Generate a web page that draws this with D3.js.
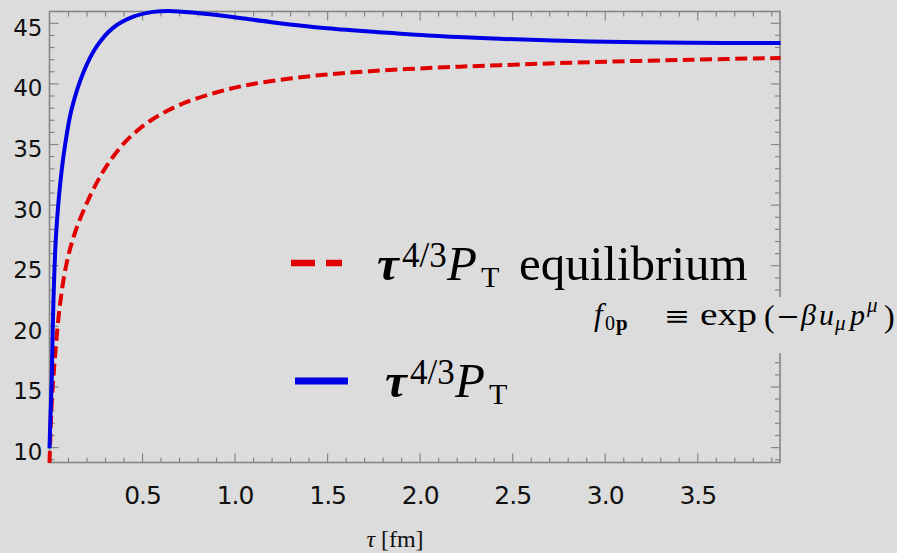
<!DOCTYPE html>
<html>
<head>
<meta charset="utf-8">
<script src="https://cdn.jsdelivr.net/npm/d3@7"></script>
<style>
	body { margin: 0; background: #dcdcdc; }
	svg { display: block; }
</style>
</head>
<body>
<div id="chart"></div>
<script>
// values
var tauBlue = [0.0, 0.006, 0.012, 0.017, 0.024, 0.035, 0.057, 0.084, 0.12, 0.183, 0.255, 0.345, 0.453, 0.56, 0.65, 0.8, 1.0, 1.2, 1.5, 1.8, 2.1, 2.43, 2.92, 3.46, 3.95]
var valBlue = [9.9, 12.9, 15.5, 19.4, 23.4, 27.4, 31.6, 34.9, 37.9, 40.9, 43.05, 44.6, 45.5, 45.9, 45.98, 45.8, 45.45, 45.05, 44.55, 44.2, 43.9, 43.68, 43.45, 43.35, 43.33]

var tauRed = [0.0, 0.012, 0.03, 0.057, 0.093, 0.138, 0.219, 0.309, 0.417, 0.543, 0.7, 0.9, 1.1, 1.41, 1.73, 2.09, 2.43, 2.92, 3.46, 3.95]
var valRed = [8.7, 13.6, 17.5, 21.8, 25.2, 27.7, 30.7, 33.2, 35.3, 36.9, 38.2, 39.25, 39.95, 40.6, 41.0, 41.3, 41.5, 41.75, 41.95, 42.1]

var xMajor = [0.5, 1.0, 1.5, 2.0, 2.5, 3.0, 3.5]
var yMajor = [10, 15, 20, 25, 30, 35, 40, 45]

var width = 897
var height = 553
var bg = '#dcdcdc'
var frameColor = '#858585'
var red = '#e00000'
var blue = '#0000e6'

var svg = d3.select("#chart")
	.append("svg")
	.attr("width", width)
	.attr("height", height)

svg.append("rect")
	.attr("width", width)
	.attr("height", height)
	.attr("fill", bg)

var plotLeft = 49.5, plotRight = 780, plotTop = 11.5, plotBottom = 462.5

var x = d3.scaleLinear().domain([0, 3.947]).range([plotLeft, plotRight])
var y = d3.scaleLinear().domain([8.73, 45.93]).range([plotBottom, plotTop])

var xMinor = d3.range(1, 40).map(function (i) { return i / 10 }).filter(function (v) { return Math.abs(v * 2 - Math.round(v * 2)) > 1e-6 })
var yMinor = d3.range(9, 46).filter(function (v) { return v % 5 != 0 })

function styleTicks(g) {
	g.select(".domain").remove()
	g.selectAll(".tick line").attr("stroke", frameColor).attr("stroke-width", 1.2)
}

// minor ticks on all four sides, pointing inward
var minorAxes = [
	{ a: d3.axisBottom(x), t: "translate(0," + plotBottom + ")", v: xMinor },
	{ a: d3.axisTop(x), t: "translate(0," + plotTop + ")", v: xMinor },
	{ a: d3.axisLeft(y), t: "translate(" + plotLeft + ",0)", v: yMinor },
	{ a: d3.axisRight(y), t: "translate(" + plotRight + ",0)", v: yMinor }
]
minorAxes.forEach(function (ax) {
	var g = svg.append("g").attr("transform", ax.t)
		.call(ax.a.tickValues(ax.v).tickSize(-5).tickFormat(""))
	styleTicks(g)
})

var gxb = svg.append("g").attr("transform", "translate(0," + plotBottom + ")")
	.call(d3.axisBottom(x).tickValues(xMajor).tickSize(-9).tickPadding(0).tickFormat(d3.format(".1f")))
styleTicks(gxb)
gxb.selectAll(".tick text")
	.attr("y", 41.5).attr("dy", null)
	.attr("fill", "#111")
	.style("font-family", "DejaVu Sans")
	.style("font-size", "25px")
	.style("letter-spacing", "-1px")

var gxt = svg.append("g").attr("transform", "translate(0," + plotTop + ")")
	.call(d3.axisTop(x).tickValues(xMajor).tickSize(-9).tickFormat(""))
styleTicks(gxt)

var gyl = svg.append("g").attr("transform", "translate(" + plotLeft + ",0)")
	.call(d3.axisLeft(y).tickValues(yMajor).tickSize(-9).tickPadding(7).tickFormat(d3.format("d")))
styleTicks(gyl)
gyl.selectAll(".tick text")
	.attr("x", -7).attr("dy", "12.5")
	.attr("fill", "#111")
	.style("font-family", "DejaVu Sans")
	.style("font-size", "23px")

var gyr = svg.append("g").attr("transform", "translate(" + plotRight + ",0)")
	.call(d3.axisRight(y).tickValues(yMajor).tickSize(-9).tickFormat(""))
styleTicks(gyr)

// frame
svg.append("rect")
	.attr("x", plotLeft).attr("y", plotTop)
	.attr("width", plotRight - plotLeft).attr("height", plotBottom - plotTop)
	.attr("fill", "none")
	.attr("stroke", frameColor)
	.attr("stroke-width", 1.6)

// curves
svg.append("clipPath").attr("id", "clip")
	.append("rect")
	.attr("x", plotLeft - 3).attr("y", plotTop - 3)
	.attr("width", plotRight - plotLeft + 6).attr("height", plotBottom - plotTop + 6)

var line = d3.line()
	.x(function (d) { return x(d[0]) })
	.y(function (d) { return y(d[1]) })
	.curve(d3.curveCatmullRom.alpha(0.5))

svg.append("path")
	.datum(d3.zip(tauRed, valRed))
	.attr("clip-path", "url(#clip)")
	.attr("d", line)
	.attr("fill", "none")
	.attr("stroke", red)
	.attr("stroke-width", 4)
	.attr("stroke-dasharray", "12,5.5")

svg.append("path")
	.datum(d3.zip(tauBlue, valBlue))
	.attr("clip-path", "url(#clip)")
	.attr("d", line)
	.attr("fill", "none")
	.attr("stroke", blue)
	.attr("stroke-width", 4)

// axis label
svg.append("text")
	.attr("x", 395).attr("y", 547)
	.attr("text-anchor", "middle")
	.style("font-family", "Liberation Serif")
	.style("font-size", "24px")
	.attr("fill", "#111")
	.html('<tspan font-style="italic">τ</tspan> [fm]')

// legend
svg.append("line")
	.attr("x1", 291).attr("x2", 342).attr("y1", 263).attr("y2", 263)
	.attr("stroke", red).attr("stroke-width", 6.5)
	.attr("stroke-dasharray", "24,11")
svg.append("line")
	.attr("x1", 295).attr("x2", 348).attr("y1", 381).attr("y2", 381)
	.attr("stroke", blue).attr("stroke-width", 7)

function piece(tx, ty, txt, size, italic, bold, len, family) {
	var t = svg.append("text")
		.attr("x", tx).attr("y", ty)
		.attr("fill", "#000")
		.style("font-family", family || "Liberation Serif")
		.style("font-size", size + "px")
		.style("font-style", italic ? "italic" : "normal")
		.style("font-weight", bold ? "bold" : "normal")
		.text(txt)
	if (len) t.attr("textLength", len).attr("lengthAdjust", "spacingAndGlyphs")
	return t
}
function legendLabel(x0, base) {
	piece(x0, base, "τ", 49, true, true)
	piece(x0 + 25, base - 13, "4/3", 35, false, false)
	piece(x0 + 70, base, "P", 49, true, false)
	piece(x0 + 104, base + 7, "T", 30, false, false)
}
legendLabel(377, 280)
piece(519, 280, "equilibrium", 49, false, false)
legendLabel(385, 397)

// formula, sitting on its own patch of background over the right frame
svg.append("rect")
	.attr("x", 585).attr("y", 297).attr("width", 312).attr("height", 56)
	.attr("fill", bg)
var fb = 325
piece(594, fb, "f", 31, true, false)
piece(605, fb + 5, "0", 20, false, false)
piece(616, fb + 5, "p", 21, false, true)
piece(664, fb, "≡", 26, false, false, 26, "DejaVu Serif")
piece(700, fb, "exp", 31, false, false, 57)
piece(764, fb + 2, "(", 32, false, false)
piece(776, fb, "−", 26, false, false, 24, "DejaVu Serif")
piece(801, fb, "β", 30, true, false)
piece(819, fb, "u", 30, true, false)
piece(835, fb + 5, "μ", 21, true, false)
piece(850, fb, "p", 30, true, false)
piece(867, fb - 13, "μ", 21, true, false)
piece(884, fb + 2, ")", 32, false, false)
</script>
</body>
</html>
